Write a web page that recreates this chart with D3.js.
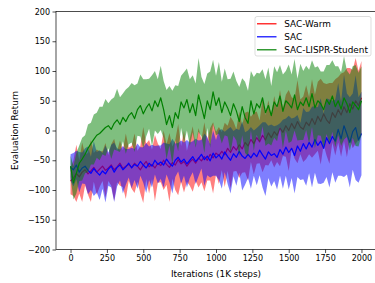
<!DOCTYPE html>
<html>
<head>
<meta charset="utf-8">
<script src="https://cdn.jsdelivr.net/npm/d3@7"></script>
<style>
  html, body { margin: 0; padding: 0; background: #fff; }
  svg { display: block; font-family: 'DejaVu Sans', sans-serif; }
</style>
</head>
<body>
<svg id="chart" width="375" height="283"></svg>
<script>
'use strict';

// iterations, one sample every 20 (1K steps)
const iterations = d3.range(0, 2001, 20);

const xTicks = [0, 250, 500, 750, 1000, 1250, 1500, 1750, 2000];
const yTicks = [-200, -150, -100, -50, 0, 50, 100, 150, 200];

const seriesNames = ['SAC-Warm', 'SAC', 'SAC-LISPR-Student'];
const seriesColors = ['#ff0000', '#0000ff', '#008000'];

const warmMean = [
  -85, -80, -72, -78, -70, -66, -73, -68, -62, -70, -65,
  -60, -67, -63, -58, -66, -61, -55, -64, -60, -57,
  -62, -55, -60, -66, -58, -52, -61, -57, -63, -55,
  -59, -50, -57, -62, -54, -58, -49, -56, -52, -60,
  -53, -48, -55, -46, -51, -44, -50, -40, -46, -38,
  -42, -35, -41, -30, -37, -27, -33, -24, -31, -20,
  -26, -15, -22, -12, -19, -8, -16, -4, -12, -2,
  -8, 4, -3, 8, 0, 12, 3, 15, 6, 2,
  14, 8, 20, 10, 24, 15, 28, 18, 12, 30,
  22, 35, 26, 40, 30, 45, 36, 50, 42, 55,
];
const warmStd = [
  22, 30, 48, 28, 50, 26, 35, 52, 24, 38, 30,
  25, 46, 22, 35, 52, 26, 38, 31, 55, 28,
  36, 50, 26, 40, 64, 30, 45, 25, 56, 33,
  28, 50, 34, 58, 27, 42, 60, 30, 52, 26,
  40, 55, 30, 50, 36, 58, 34, 44, 60, 36,
  48, 32, 54, 38, 60, 42, 35, 56, 40, 50,
  58, 38, 52, 44, 36, 62, 42, 55, 38, 60,
  45, 64, 40, 52, 68, 44, 50, 70, 46, 55,
  62, 48, 66, 50, 58, 72, 52, 60, 68, 50,
  64, 55, 70, 58, 75, 60, 66, 72, 58, 62,
];

const sacMean = [
  -62, -66, -58, -70, -63, -60, -67, -72, -64, -70, -75,
  -68, -73, -65, -60, -70, -62, -58, -66, -61, -55,
  -63, -57, -60, -52, -58, -63, -55, -60, -50, -57,
  -53, -58, -48, -55, -60, -50, -45, -53, -48, -56,
  -50, -44, -52, -47, -40, -49, -43, -51, -38, -46,
  -41, -48, -36, -44, -50, -39, -45, -35, -43, -47,
  -40, -46, -38, -44, -33, -41, -48, -36, -42, -39,
  -45, -32, -40, -28, -37, -30, -42, -26, -35, -22,
  -31, -20, -28, -15, -25, -18, -30, -12, -22, -10,
  -18, 2, -14, 8, -6, -20, -2, 5, -16, -5,
];
const sacStd = [
  22, 28, 24, 34, 26, 30, 40, 28, 46, 34, 42,
  30, 48, 28, 36, 50, 32, 26, 40, 30, 24,
  34, 26, 38, 24, 30, 42, 28, 36, 24, 32,
  28, 38, 26, 32, 46, 28, 24, 36, 28, 40,
  30, 26, 38, 30, 24, 44, 32, 28, 38, 30,
  42, 50, 34, 46, 56, 38, 48, 36, 58, 44,
  40, 52, 38, 48, 42, 55, 62, 44, 52, 46,
  54, 44, 58, 48, 62, 50, 64, 52, 48, 60,
  62, 52, 68, 56, 64, 72, 58, 66, 74, 60,
  70, 78, 62, 86, 68, 76, 64, 88, 72, 70,
];

const studentMean = [
  -60, -88, -72, -55, -48, -40, -30, -22, -15, -8, -5,
  0, 5, 8, 2, 12, 18, 10, 22, 15, 25,
  30, 20, 35, 42, 28, 38, 45, 33, 50, 40,
  55, 35, 10, 25, 5, 30, 20, 48, 38, 52,
  30, 45, 25, 60, 40, 20, 50, 35, 65, 42,
  55, 30, 48, 38, 25, 45, 33, 15, 40, 22,
  12, 50, 28, 45, 38, 55, 30, 42, 25, 48,
  40, 58, 32, 50, 45, 38, 60, 35, 48, 42,
  55, 40, 62, 38, 50, 45, 35, 52, 44, 58,
  40, 50, 36, 55, 45, 30, 48, 42, 35, 50,
];
const studentStd = [
  18, 28, 34, 30, 36, 32, 40, 35, 42, 38, 45,
  40, 48, 38, 50, 44, 52, 46, 40, 54, 48,
  50, 56, 44, 52, 58, 48, 42, 60, 50, 46,
  54, 48, 58, 50, 62, 46, 55, 44, 60, 52,
  56, 48, 54, 62, 50, 58, 46, 64, 54, 50,
  60, 52, 56, 48, 62, 54, 50, 58, 48, 60,
  55, 50, 62, 52, 58, 48, 56, 64, 50, 60,
  58, 52, 62, 50, 66, 56, 60, 52, 64, 58,
  54, 62, 56, 68, 58, 54, 64, 58, 66, 60,
  68, 58, 62, 70, 56, 64, 60, 68, 62, 58,
];

const seriesMeans = [warmMean, sacMean, studentMean];
const seriesStds = [warmStd, sacStd, studentStd];

const width = 375;
const height = 283;
const margin = { top: 11.5, right: -1, bottom: 33.5, left: 56 };
const tickFont = '8px';
const labelFont = '8.9px';

const svg = d3.select('#chart');

const x = d3.scaleLinear()
  .domain([-100, 2100])
  .range([margin.left, width - margin.right]);
const y = d3.scaleLinear()
  .domain([-200, 200])
  .range([height - margin.bottom, margin.top]);

const fmt = (v) => String(v).replace('-', '\u2212');

const plot = svg.append('g');

/**
 * Draws the shaded band (mean +/- std) and the mean line of one run.
 *
 * @param {number} s - index of the series
 * @returns {undefined}
 */
const drawSeries = (s) => {
  const rows = iterations.map((it, i) => ({
    it,
    mean: seriesMeans[s][i],
    std: seriesStds[s][i],
  }));

  plot.append('path')
    .datum(rows)
    .attr('fill', seriesColors[s])
    .attr('fill-opacity', 0.5)
    .attr('d', d3.area()
      .x((d) => x(d.it))
      .y0((d) => y(d.mean - d.std))
      .y1((d) => y(d.mean + d.std)));

  plot.append('path')
    .datum(rows)
    .attr('fill', 'none')
    .attr('stroke', seriesColors[s])
    .attr('stroke-width', 1.2)
    .attr('stroke-linejoin', 'round')
    .attr('d', d3.line()
      .x((d) => x(d.it))
      .y((d) => y(d.mean)));
};

seriesNames.forEach((name, s) => drawSeries(s));

// axes
const xAxis = svg.append('g')
  .attr('transform', `translate(0,${height - margin.bottom})`)
  .call(d3.axisBottom(x).tickValues(xTicks).tickSize(3.5).tickPadding(2.5)
    .tickFormat(fmt));
const yAxis = svg.append('g')
  .attr('transform', `translate(${margin.left},0)`)
  .call(d3.axisLeft(y).tickValues(yTicks).tickSize(3.5).tickPadding(2.5)
    .tickFormat(fmt));

[xAxis, yAxis].forEach((ax) => {
  ax.select('.domain').remove();
  ax.selectAll('line').attr('stroke', '#000').attr('stroke-width', 0.7);
  ax.selectAll('text')
    .attr('fill', '#000')
    .style('font-size', tickFont)
    .style('font-family', "'DejaVu Sans', sans-serif");
});

// spines
svg.append('rect')
  .attr('x', margin.left)
  .attr('y', margin.top)
  .attr('width', width - margin.right - margin.left)
  .attr('height', height - margin.bottom - margin.top)
  .attr('fill', 'none')
  .attr('stroke', '#000')
  .attr('stroke-width', 0.7);

svg.append('text')
  .attr('x', 216)
  .attr('y', 277)
  .attr('text-anchor', 'middle')
  .style('font-size', labelFont)
  .text('Iterations (1K steps)');

svg.append('text')
  .attr('transform', `translate(18,${(margin.top + height - margin.bottom) / 2}) rotate(-90)`)
  .attr('text-anchor', 'middle')
  .style('font-size', labelFont)
  .text('Evaluation Return');

// legend
const legend = svg.append('g').attr('transform', 'translate(255,16.5)');
legend.append('rect')
  .attr('width', 116)
  .attr('height', 39.5)
  .attr('rx', 2)
  .attr('fill', '#fff')
  .attr('fill-opacity', 0.8)
  .attr('stroke', '#d0d0d0')
  .attr('stroke-width', 0.7);

const legendItem = legend.selectAll('g.item')
  .data(seriesNames)
  .enter()
  .append('g')
  .attr('class', 'item')
  .attr('transform', (d, i) => `translate(0,${7.3 + i * 13})`);
legendItem.append('line')
  .attr('x1', 2)
  .attr('x2', 21.5)
  .attr('stroke', (d, i) => seriesColors[i])
  .attr('stroke-width', 1.2);
legendItem.append('text')
  .attr('x', 29.3)
  .attr('dy', '0.35em')
  .style('font-size', labelFont)
  .text((d) => d);
</script>
</body>
</html>
